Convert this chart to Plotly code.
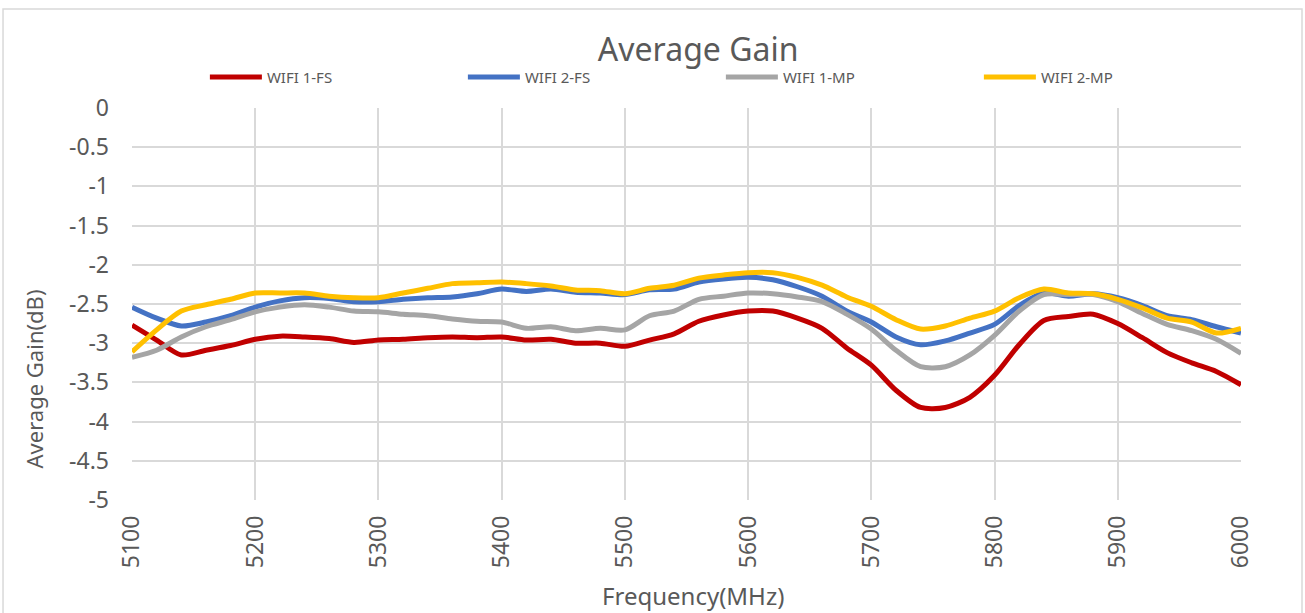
import plotly.graph_objects as go

# Frequency points (MHz), 20 MHz step
freq = list(range(5100, 6001, 20))

wifi1_fs = [-2.77, -2.96, -3.15, -3.09, -3.03, -2.95, -2.91, -2.92, -2.94, -2.99,
            -2.96, -2.95, -2.93, -2.92, -2.93, -2.92, -2.96, -2.95, -3.00, -3.00,
            -3.04, -2.96, -2.88, -2.72, -2.64, -2.59, -2.59, -2.68, -2.81, -3.06,
            -3.28, -3.60, -3.82, -3.82, -3.69, -3.41, -3.02, -2.71, -2.66, -2.63,
            -2.75, -2.93, -3.12, -3.25, -3.36, -3.53]
wifi2_fs = [-2.54, -2.68, -2.78, -2.73, -2.65, -2.54, -2.46, -2.42, -2.43, -2.47,
            -2.47, -2.44, -2.42, -2.41, -2.37, -2.31, -2.34, -2.31, -2.35, -2.36,
            -2.38, -2.32, -2.31, -2.22, -2.18, -2.16, -2.19, -2.28, -2.40, -2.59,
            -2.73, -2.92, -3.02, -2.97, -2.87, -2.76, -2.52, -2.36, -2.40, -2.37,
            -2.42, -2.52, -2.65, -2.70, -2.79, -2.87]
wifi1_mp = [-3.18, -3.09, -2.92, -2.79, -2.70, -2.60, -2.54, -2.51, -2.54, -2.59,
            -2.60, -2.63, -2.65, -2.69, -2.72, -2.73, -2.81, -2.79, -2.84, -2.81,
            -2.83, -2.65, -2.59, -2.44, -2.40, -2.36, -2.37, -2.41, -2.47, -2.63,
            -2.82, -3.09, -3.30, -3.30, -3.15, -2.90, -2.59, -2.38, -2.38, -2.38,
            -2.47, -2.62, -2.76, -2.84, -2.95, -3.13]
wifi2_mp = [-3.11, -2.83, -2.59, -2.51, -2.44, -2.36, -2.36, -2.36, -2.40, -2.42,
            -2.42, -2.36, -2.30, -2.24, -2.23, -2.22, -2.24, -2.27, -2.32, -2.33,
            -2.37, -2.30, -2.26, -2.17, -2.13, -2.10, -2.10, -2.16, -2.26, -2.41,
            -2.53, -2.70, -2.82, -2.78, -2.68, -2.59, -2.42, -2.31, -2.36, -2.37,
            -2.44, -2.55, -2.68, -2.73, -2.87, -2.81]

series = [
    ("WIFI 1-FS", wifi1_fs, "#C00000"),
    ("WIFI 2-FS", wifi2_fs, "#4472C4"),
    ("WIFI 1-MP", wifi1_mp, "#A5A5A5"),
    ("WIFI 2-MP", wifi2_mp, "#FFC000"),
]

font_family = "Noto Sans, Liberation Sans, sans-serif"
text_color = "#595959"
grid_color = "#D9D9D9"

fig = go.Figure()
for name, vals, color in series:
    fig.add_trace(go.Scatter(x=freq, y=vals, mode="lines", name=name,
                             line=dict(color=color, width=5, shape="spline", smoothing=0.8)))

fig.update_layout(
    width=1305, height=613,
    margin=dict(l=132, r=64, t=108, b=113, autoexpand=False),
    paper_bgcolor="white", plot_bgcolor="white",
    font=dict(family=font_family, color=text_color),
    title=dict(text="Average Gain", xref="container", x=0.535, xanchor="center",
               yref="container", y=0.918, yanchor="middle",
               font=dict(size=32, color=text_color)),
    legend=dict(orientation="h", xref="container", x=0.157, xanchor="left",
                yref="container", y=0.874, yanchor="middle",
                entrywidth=191, entrywidthmode="pixels", itemwidth=52,
                font=dict(size=15, color=text_color)),
    showlegend=True,
)

fig.update_xaxes(range=[5100, 6000], tickvals=list(range(5100, 6001, 100)),
                 tickangle=-90, tickfont=dict(size=23, color=text_color),
                 showgrid=True, gridcolor=grid_color, gridwidth=1.5,
                 zeroline=False, showline=False, ticks="", ticklabelstandoff=10)
fig.update_yaxes(range=[-5, 0], tickvals=[0, -0.5, -1, -1.5, -2, -2.5, -3, -3.5, -4, -4.5, -5],
                 ticktext=["0", "-0.5", "-1", "-1.5", "-2", "-2.5", "-3", "-3.5", "-4", "-4.5", "-5"],
                 tickfont=dict(size=23, color=text_color),
                 showgrid=True, gridcolor=grid_color, gridwidth=1.5,
                 zeroline=False, showline=False, ticks="", ticklabelstandoff=22)

# axis titles
fig.add_annotation(text="Frequency(MHz)", xref="paper", yref="paper", x=0.506, y=-0.243,
                   xanchor="center", yanchor="middle", showarrow=False,
                   font=dict(size=24, color=text_color))
fig.add_annotation(text="Average Gain(dB)", xref="paper", yref="paper", x=-0.0875, y=0.31,
                   xanchor="center", yanchor="middle", showarrow=False, textangle=-90,
                   font=dict(size=22, color=text_color))

# chart frame
fig.add_shape(type="rect", xref="paper", yref="paper", x0=-0.1163, x1=1.055, y0=-0.35, y1=1.2526,
              line=dict(color="#D9D9D9", width=1.5), fillcolor="rgba(0,0,0,0)", layer="below")

# the page has a default body margin; drop it so the figure sits at the window origin
fig.write_html("out.html", config={"displayModeBar": False},
               post_script="document.body.style.margin='0';")
